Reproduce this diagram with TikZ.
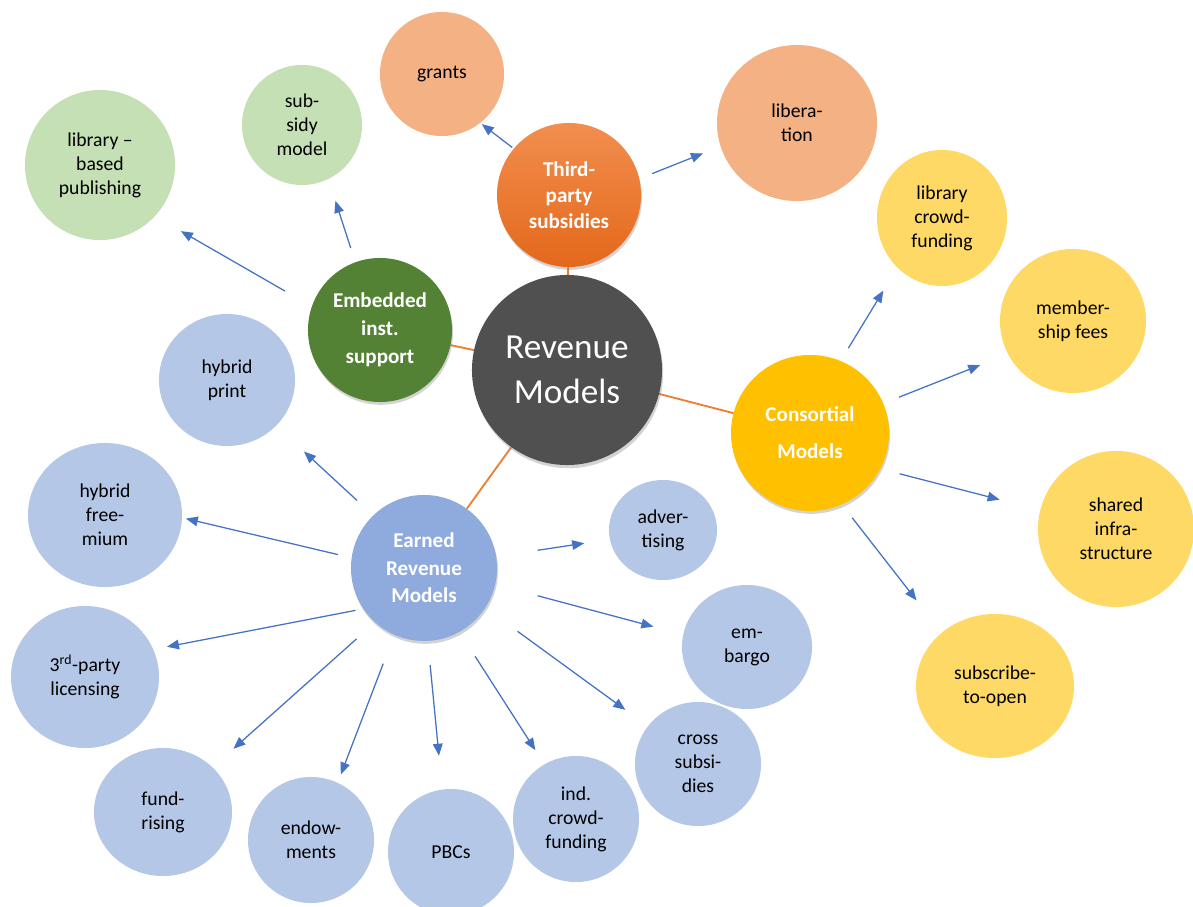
\documentclass[tikz,border=0pt]{standalone}
\usepackage{fontspec}
\setmainfont{Carlito}
\usetikzlibrary{backgrounds}
\usetikzlibrary{arrows.meta}
\usetikzlibrary{shapes.geometric}
\usetikzlibrary{shadows}

\definecolor{revgray}{HTML}{505050}
\definecolor{linkorange}{HTML}{ED7D31}
\definecolor{arrowblue}{HTML}{4472C4}
\definecolor{thirdtop}{HTML}{F28E4F}
\definecolor{thirdbot}{HTML}{E4681A}
\definecolor{thirdleaf}{HTML}{F4B183}
\definecolor{embgreen}{HTML}{548235}
\definecolor{embleaf}{HTML}{C5E0B4}
\definecolor{consgold}{HTML}{FFC000}
\definecolor{consleaf}{HTML}{FFD966}
\definecolor{earnblue}{HTML}{8FAADC}
\definecolor{earnleaf}{HTML}{B4C7E7}

\begin{document}
\begin{tikzpicture}[
    x=0.025cm, y=-0.025cm,
    bub/.style={ellipse, inner sep=0pt, outer sep=0pt, align=center},
    sz/.style 2 args={minimum width=#1*0.05cm, minimum height=#2*0.05cm},
    hub/.style={bub, text=white, font=\fontsize{15}{18.5}\selectfont\bfseries,
        drop shadow={shadow xshift=0.25mm, shadow yshift=-0.7mm, opacity=0.35}},
    leaf/.style={bub, text=black, font=\fontsize{14}{17}\selectfont},
    link/.style={draw=linkorange, line width=1.3pt},
    arr/.style 2 args={draw=arrowblue, line width=0.9pt,
        -{Triangle[length=3mm,width=2.4mm]},
        shorten <=#1*0.025cm, shorten >=#2*0.025cm},
 ]
    \useasboundingbox (0,0) rectangle (1193,907);

    % centre and the four groups
    \node[bub, sz={95}{95}, fill=revgray, text=white, font=\fontsize{25}{32}\selectfont,
        drop shadow={shadow xshift=0.3mm, shadow yshift=-0.8mm, opacity=0.35}]
        (Rev) at (567,370) {Revenue\\Models};
    \node[hub, sz={72}{72}, top color=thirdtop, bottom color=thirdbot] (Third) at (569,195) {Third-\\party\\subsidies};
    \node[hub, sz={72}{72}, fill=embgreen, font=\fontsize{15}{20}\selectfont\bfseries] (Emb) at (380,330) {Embedded\\inst.\\support};
    \node[hub, sz={79}{78}, fill=consgold] (Cons) at (810,433) {Consortial\\[8pt]Models};
    \node[hub, sz={73}{73}, fill=earnblue, font=\fontsize{15}{19.5}\selectfont\bfseries] (Earn) at (424,568) {Earned\\Revenue\\Models};

    % third-party subsidies
    \node[leaf, sz={62}{62}, fill=thirdleaf] (T1) at (442,74) {grants};
    \node[leaf, sz={80}{78}, fill=thirdleaf] (T2) at (797,123) {libera-\\tion};

    % embedded support
    \node[leaf, sz={60}{60}, fill=embleaf] (B1) at (302,125) {sub-\\sidy\\model};
    \node[leaf, sz={75}{75}, fill=embleaf] (B2) at (100,165) {library --\\based\\publishing};

    % consortial models
    \node[leaf, sz={65}{68}, fill=consleaf] (C1) at (942,218) {library\\crowd-\\funding};
    \node[leaf, sz={73}{72}, fill=consleaf] (C2) at (1073,321) {member-\\ship fees};
    \node[leaf, sz={78}{78}, fill=consleaf] (C3) at (1116,529) {shared\\infra-\\structure};
    \node[leaf, sz={79}{72}, fill=consleaf] (C4) at (995,686) {subscribe-\\to-open};

    % earned revenue
    \node[leaf, sz={68}{66}, fill=earnleaf] (E1) at (227,380) {hybrid\\print};
    \node[leaf, sz={77}{72}, fill=earnleaf] (E2) at (105,515) {hybrid\\free-\\mium};
    \node[leaf, sz={74}{71}, fill=earnleaf] (E3) at (85,677) {3\textsuperscript{rd}-party\\licensing};
    \node[leaf, sz={69}{64}, fill=earnleaf] (E4) at (163,812) {fund-\\rising};
    \node[leaf, sz={63}{63}, fill=earnleaf] (E5) at (311,840) {endow-\\ments};
    \node[leaf, sz={63}{63}, fill=earnleaf] (E6) at (451,852) {PBCs};
    \node[leaf, sz={63}{63}, fill=earnleaf] (E7) at (576,819) {ind.\\crowd-\\funding};
    \node[leaf, sz={63}{62}, fill=earnleaf] (E8) at (698,764) {cross\\subsi-\\dies};
    \node[leaf, sz={65}{62}, fill=earnleaf] (E9) at (747,647) {em-\\bargo};
    \node[leaf, sz={54}{50}, fill=earnleaf] (E10) at (663,530) {adver-\\tising};

    \begin{scope}[on background layer]
        \draw[link] (Rev) -- (Third);
        \draw[link] (Rev) -- (Emb);
        \draw[link] (Rev) -- (Cons);
        \draw[link] (Rev) -- (Earn);
    \end{scope}

    \draw[arr={2}{2}] (Third.140.5) -- (T1.-52.6);
    \draw[arr={14}{19}] (Third.13.4) -- (T2.-163.6);
    \draw[arr={15}{23}] (Emb.110) -- (B1.-64.4);
    \draw[arr={31}{30}] (Emb.161.4) -- (B2.-43.5);
    \draw[arr={15}{27}] (Cons.67.3) -- (C1.-132.8);
    \draw[arr={17}{30}] (Cons.22.8) -- (C2.-153.4);
    \draw[arr={20}{42}] (Cons.-27.1) -- (C3.166.1);
    \draw[arr={17}{41}] (Cons.-66.6) -- (C4.135);
    \draw[arr={22}{38}] (Earn.134.1) -- (E1.-43.5);
    \draw[arr={14}{4}] (Earn.172.1) -- (E2.-2.8);
    \draw[arr={8}{14}] (Earn.-146.1) -- (E3.22.2);
    \draw[arr={25}{28}] (Earn.-132.9) -- (E4.42.4);
    \draw[arr={31}{9}] (Earn.-114.4) -- (E5.65.2);
    \draw[arr={24}{34}] (Earn.-87.6) -- (E6.98.3);
    \draw[arr={29}{17}] (Earn.-61.4) -- (E7.120.1);
    \draw[arr={40}{28}] (Earn.-33.4) -- (E8.143.5);
    \draw[arr={44}{31}] (Earn.-13.8) -- (E9.169.7);
    \draw[arr={42}{26}] (Earn.9) -- (E10.-170.7);
\end{tikzpicture}
\end{document}
